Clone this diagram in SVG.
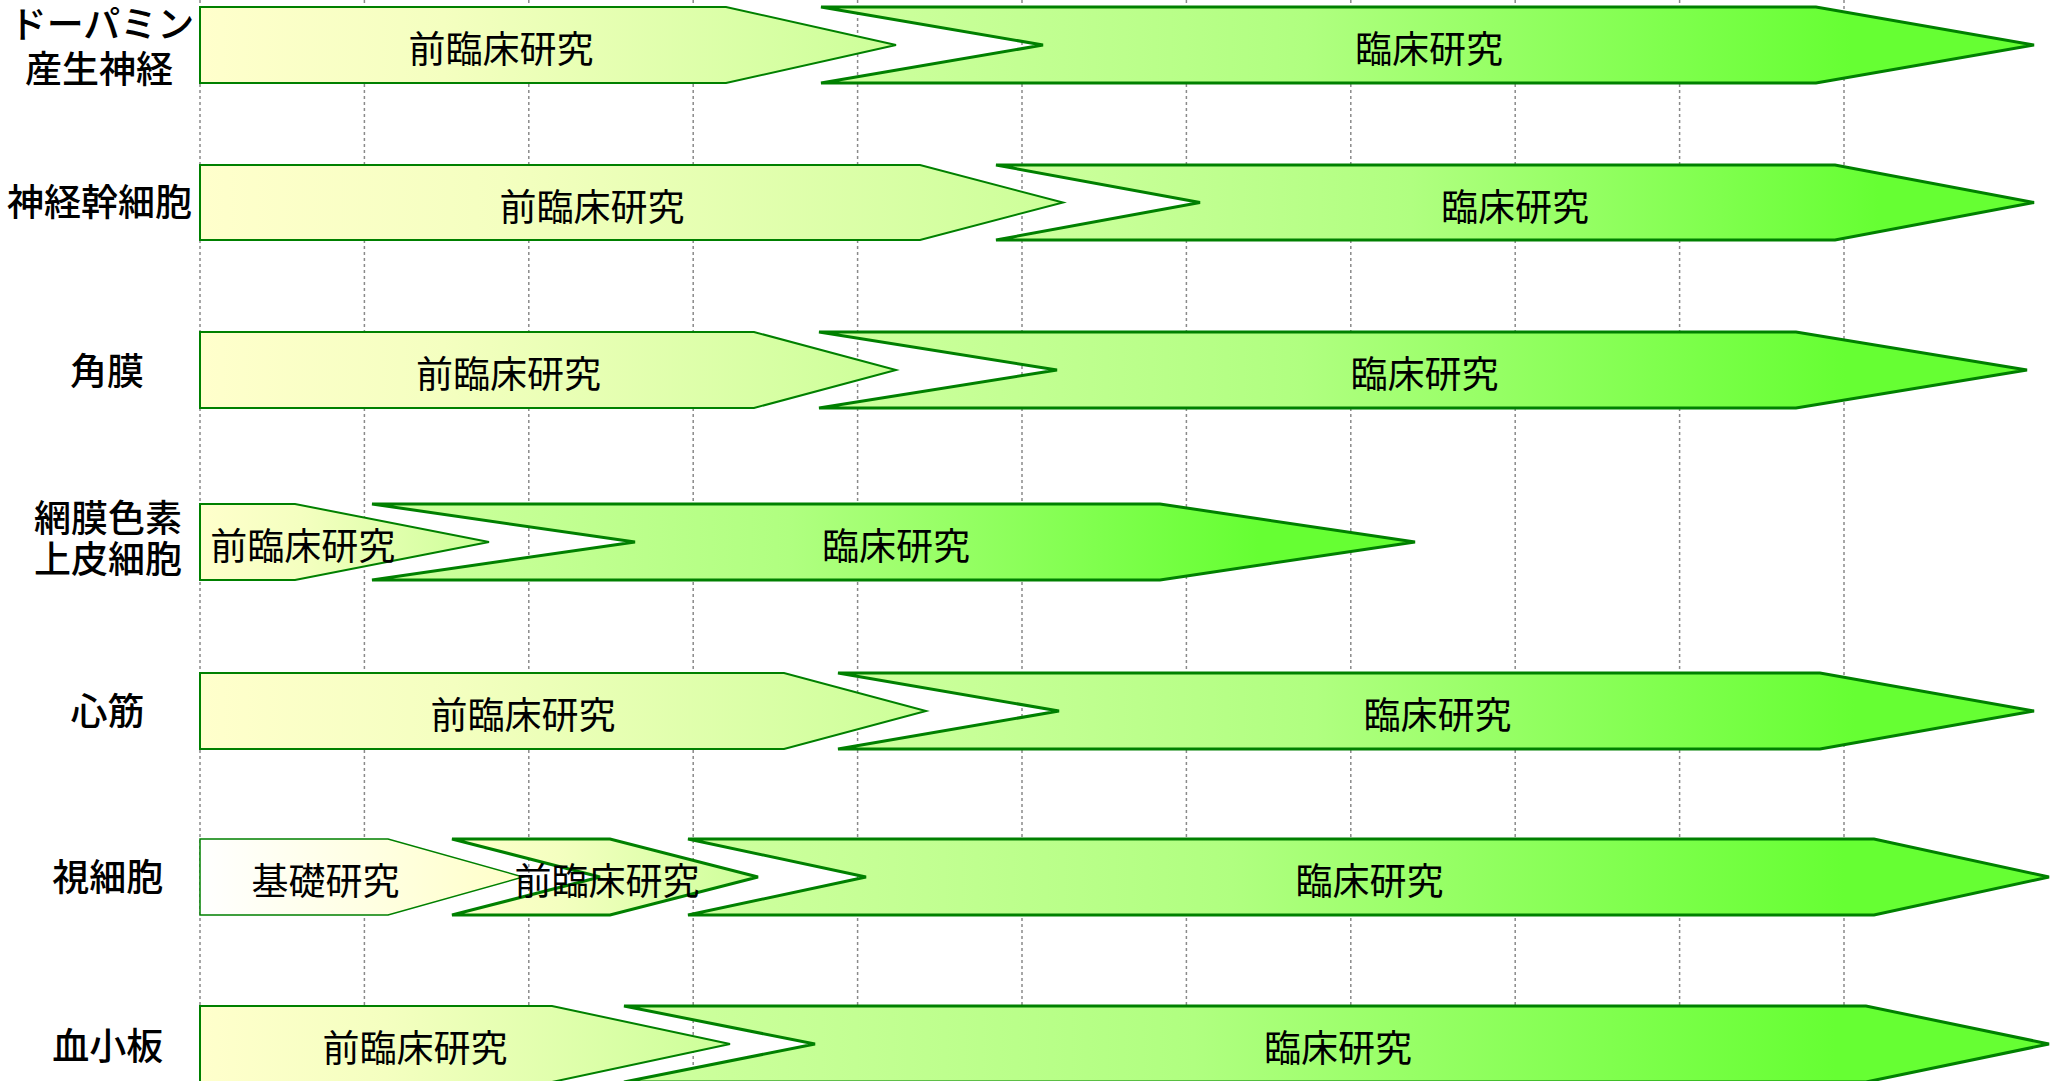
<svg xmlns="http://www.w3.org/2000/svg" width="2058" height="1081" viewBox="0 0 2058 1081">
<style>
.grid{stroke:#8a8a8a;stroke-width:1.5;stroke-dasharray:3 3;fill:none}
.lbl{font-family:"Noto Sans CJK JP","Noto Sans CJK SC",sans-serif;font-size:37px;font-weight:500;fill:#000;text-anchor:middle}
.txt{font-family:"Noto Sans CJK JP","Noto Sans CJK SC",sans-serif;font-size:37px;fill:#000;text-anchor:middle}
.basic{fill:url(#gBasic);stroke:#008000;stroke-width:1.5;stroke-linejoin:miter}
.pre{fill:url(#gPre);stroke:#008000;stroke-width:2;stroke-linejoin:miter}
.pre2{fill:url(#gPre);stroke:#008000;stroke-width:3;stroke-linejoin:miter}
.clin{fill:url(#gClin);stroke:#008000;stroke-width:3;stroke-linejoin:miter}
</style>
<defs>
<linearGradient id="gBasic" x1="0" y1="0" x2="1" y2="0"><stop offset="0" stop-color="#FFFFFF"/><stop offset="1" stop-color="#FFFFC8"/></linearGradient>
<linearGradient id="gPre" x1="0" y1="0" x2="1" y2="0"><stop offset="0" stop-color="#FFFFCC"/><stop offset="0.35" stop-color="#F4FFC0"/><stop offset="1" stop-color="#CCFF99"/></linearGradient>
<linearGradient id="gClin" x1="0" y1="0" x2="1" y2="0"><stop offset="0" stop-color="#D0FFA0"/><stop offset="0.4" stop-color="#B0FF80"/><stop offset="0.85" stop-color="#66FF33"/><stop offset="1" stop-color="#66FF33"/></linearGradient>
</defs>
<rect width="2058" height="1081" fill="#FFFFFF"/>
<g id="grid">
<line class="grid" x1="200" y1="0" x2="200" y2="1081"/>
<line class="grid" x1="364.4" y1="0" x2="364.4" y2="1081"/>
<line class="grid" x1="528.8" y1="0" x2="528.8" y2="1081"/>
<line class="grid" x1="693.2" y1="0" x2="693.2" y2="1081"/>
<line class="grid" x1="857.6" y1="0" x2="857.6" y2="1081"/>
<line class="grid" x1="1022" y1="0" x2="1022" y2="1081"/>
<line class="grid" x1="1186.4" y1="0" x2="1186.4" y2="1081"/>
<line class="grid" x1="1350.8" y1="0" x2="1350.8" y2="1081"/>
<line class="grid" x1="1515.2" y1="0" x2="1515.2" y2="1081"/>
<line class="grid" x1="1679.6" y1="0" x2="1679.6" y2="1081"/>
<line class="grid" x1="1844" y1="0" x2="1844" y2="1081"/>
</g>
<g id="connectors"></g>
<g id="labels">
<text class="lbl" x="102" y="38">ドーパミン</text>
<text class="lbl" x="99" y="83">産生神経</text>
<text class="lbl" x="99.5" y="215.5">神経幹細胞</text>
<text class="lbl" x="107" y="385">角膜</text>
<text class="lbl" x="108" y="531.5">網膜色素</text>
<text class="lbl" x="108" y="573">上皮細胞</text>
<text class="lbl" x="107.5" y="725">心筋</text>
<text class="lbl" x="107.7" y="891">視細胞</text>
<text class="lbl" x="107.7" y="1060">血小板</text>
</g>
<g id="row1-pre"><polygon class="pre" points="200,7 726,7 896,45 726,83 200,83"/><text class="txt" x="501" y="63">前臨床研究</text></g>
<g id="row1-clin"><polygon class="clin" points="821,7 1816,7 2034,45 1816,83 821,83 1043,45"/><text class="txt" x="1429" y="63">臨床研究</text></g>
<g id="row2-pre"><polygon class="pre" points="200,165 920,165 1063,202.5 920,240 200,240"/><text class="txt" x="592" y="220.5">前臨床研究</text></g>
<g id="row2-clin"><polygon class="clin" points="996,165 1835,165 2034,202.5 1835,240 996,240 1200,202.5"/><text class="txt" x="1515" y="220.5">臨床研究</text></g>
<g id="row3-pre"><polygon class="pre" points="200,332 754,332 896,370 754,408 200,408"/><text class="txt" x="508.6" y="388">前臨床研究</text></g>
<g id="row3-clin"><polygon class="clin" points="819,332 1796,332 2027,370 1796,408 819,408 1057,370"/><text class="txt" x="1424.5" y="388">臨床研究</text></g>
<g id="row4-pre"><polygon class="pre" points="200,504 295,504 489,542 295,580 200,580"/><text class="txt" x="302.7" y="560">前臨床研究</text></g>
<g id="row4-clin"><polygon class="clin" points="372,504 1160,504 1415,542 1160,580 372,580 635,542"/><text class="txt" x="896" y="560">臨床研究</text></g>
<g id="row5-pre"><polygon class="pre" points="200,673 784,673 926,711 784,749 200,749"/><text class="txt" x="523" y="729">前臨床研究</text></g>
<g id="row5-clin"><polygon class="clin" points="838,673 1820,673 2034,711 1820,749 838,749 1059,711"/><text class="txt" x="1437.5" y="729">臨床研究</text></g>
<g id="row6-basic"><polygon class="basic" points="200,839 388,839 523,877 388,915 200,915"/><text class="txt" x="325.5" y="895">基礎研究</text></g>
<g id="row6-pre"><polygon class="pre2" points="452,839 610,839 758,877 610,915 452,915 600,877"/><text class="txt" x="607" y="895">前臨床研究</text></g>
<g id="row6-clin"><polygon class="clin" points="688,839 1874,839 2049,877 1874,915 688,915 866,877"/><text class="txt" x="1369.5" y="895">臨床研究</text></g>
<g id="row7-pre"><polygon class="pre" points="200,1006 552,1006 730,1044 552,1082 200,1082"/><text class="txt" x="415" y="1062">前臨床研究</text></g>
<g id="row7-clin"><polygon class="clin" points="624,1006 1866,1006 2049,1044 1866,1082 624,1082 815,1044"/><text class="txt" x="1338" y="1062">臨床研究</text></g>
</svg>
